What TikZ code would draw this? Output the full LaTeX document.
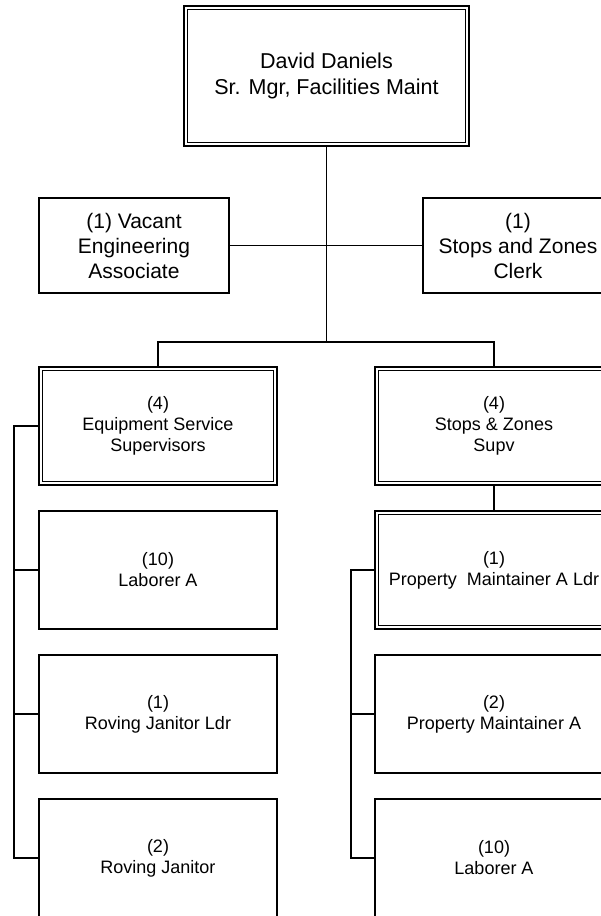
\documentclass[tikz,border=0pt]{standalone}
\usepackage{fontspec}
\setmainfont{Liberation Sans}
\usepackage{tikz}
\usetikzlibrary{positioning}

\begin{document}
\begin{tikzpicture}[
  x=1pt,y=-1pt,
  every node/.style={align=center,inner sep=0pt,outer sep=0pt},
  box/.style={draw,line width=1.6pt,minimum width=238.4pt,minimum height=118.4pt,font=\fontsize{18}{21}\selectfont},
  dbox/.style={box,append after command={\pgfextra{\draw[line width=0.8pt]
      ([shift={(3.8pt,-3.8pt)}]\tikzlastnode.north west) rectangle
      ([shift={(-3.8pt,3.8pt)}]\tikzlastnode.south east);}}},
  staff/.style={box,minimum width=190.4pt,minimum height=95.4pt,font=\fontsize{21}{25}\selectfont},
  link/.style={line width=1.6pt},
  node distance=25.6pt]
\useasboundingbox (0,0) rectangle (601,916);
\clip (0,0) rectangle (601,916);

\node[dbox,minimum width=285.4pt,minimum height=140.4pt,font=\fontsize{21.5}{25.5}\selectfont] (mgr) at (326.5,76) {David Daniels\\Sr. Mgr, Facilities Maint};
\node[staff] (vac) at (134,245.5) {(1) Vacant\\Engineering\\Associate};
\node[staff] (clerk) at (518,245.5) {(1)\\Stops and Zones\\Clerk};
\coordinate (fork) at (326.5,342);

% left branch
\node[dbox] (ess) at (158,426) {(4)\\Equipment Service\\Supervisors};
\node[box,below=of ess] (labl) {(10)\\Laborer A};
\node[box,below=of labl] (rjl) {(1)\\Roving Janitor Ldr};
\node[box,below=of rjl] (rj) {(2)\\Roving Janitor};
\coordinate (lsp) at (14,0);

% right branch
\node[dbox] (szs) at (494,426) {(4)\\Stops \& Zones\\Supv};
\node[dbox,below=of szs] (pmal) {(1)\\Property\ \ Maintainer A Ldr};
\node[box,below=of pmal] (pma) {(2)\\Property Maintainer A};
\node[box,below=of pma] (labr) {(10)\\Laborer A};
\coordinate (rsp) at (351,0);

\draw[link] (mgr) -- (fork);
\draw[link] (vac) -- (clerk);
\draw[link] (ess.north) |- (fork) -| (szs.north);

\draw[link] (ess.west) -| (rj.west -| lsp) -- (rj.west);
\foreach \n in {labl,rjl}
  \draw[link] (\n.west) -- (\n.west -| lsp);

\draw[link] (szs) -- (pmal);
\draw[link] (pmal.west) -| (labr.west -| rsp) -- (labr.west);
\draw[link] (pma.west) -- (pma.west -| rsp);
\end{tikzpicture}
\end{document}
